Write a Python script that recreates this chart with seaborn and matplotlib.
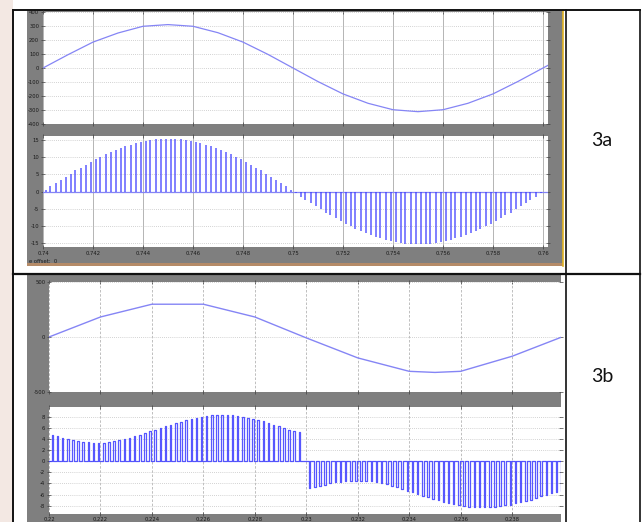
#!/usr/bin/env python3
"""
Recreation of a two-row figure table (3a / 3b) with Simulink-style scope
screenshots: a grid voltage sine on top and switching pulses below.
"""
import matplotlib
matplotlib.use('Agg')
import matplotlib.pyplot as plt
import seaborn as sns
from matplotlib.patches import Rectangle
from matplotlib.lines import Line2D

# ---------------------------------------------------------------- data 3a
sine_t_3a = [0.740, 0.741, 0.742, 0.743, 0.744, 0.745, 0.746, 0.747, 0.748, 0.749,
             0.750, 0.751, 0.752, 0.753, 0.754, 0.755, 0.756, 0.757, 0.758, 0.759,
             0.760, 0.7602]
sine_v_3a = [0, 95, 185, 250, 298, 310, 298, 252, 185, 97,
             0, -97, -185, -252, -298, -312, -298, -252, -185, -96,
             0, 19]

pulse_t_3a = [0.7401, 0.7403, 0.7405, 0.7407, 0.7409, 0.7411, 0.7413, 0.7415, 0.7417, 0.7419,
              0.7421, 0.7423, 0.7425, 0.7427, 0.7429, 0.7431, 0.7433, 0.7435, 0.7437, 0.7439,
              0.7441, 0.7443, 0.7445, 0.7447, 0.7449, 0.7451, 0.7453, 0.7455, 0.7457, 0.7459,
              0.7461, 0.7463, 0.7465, 0.7467, 0.7469, 0.7471, 0.7473, 0.7475, 0.7477, 0.7479,
              0.7481, 0.7483, 0.7485, 0.7487, 0.7489, 0.7491, 0.7493, 0.7495, 0.7497, 0.7499,
              0.7501, 0.7503, 0.7505, 0.7507, 0.7509, 0.7511, 0.7513, 0.7515, 0.7517, 0.7519,
              0.7521, 0.7523, 0.7525, 0.7527, 0.7529, 0.7531, 0.7533, 0.7535, 0.7537, 0.7539,
              0.7541, 0.7543, 0.7545, 0.7547, 0.7549, 0.7551, 0.7553, 0.7555, 0.7557, 0.7559,
              0.7561, 0.7563, 0.7565, 0.7567, 0.7569, 0.7571, 0.7573, 0.7575, 0.7577, 0.7579,
              0.7581, 0.7583, 0.7585, 0.7587, 0.7589, 0.7591, 0.7593, 0.7595, 0.7597, 0.7599]
pulse_v_3a = [0.5, 1.5, 2.4, 3.4, 4.3, 5.2, 6.2, 7.0, 7.9, 8.7,
              9.5, 10.2, 11.0, 11.6, 12.2, 12.8, 13.3, 13.8, 14.2, 14.6,
              14.9, 15.1, 15.3, 15.4, 15.5, 15.5, 15.4, 15.3, 15.1, 14.9,
              14.6, 14.2, 13.8, 13.3, 12.8, 12.2, 11.6, 11.0, 10.2, 9.5,
              8.7, 7.9, 7.0, 6.2, 5.2, 4.3, 3.4, 2.4, 1.5, 0.5,
              -0.5, -1.5, -2.4, -3.4, -4.3, -5.2, -6.2, -7.0, -7.9, -8.7,
              -9.5, -10.2, -11.0, -11.6, -12.2, -12.8, -13.3, -13.8, -14.2, -14.6,
              -14.9, -15.1, -15.3, -15.4, -15.5, -15.5, -15.4, -15.3, -15.1, -14.9,
              -14.6, -14.2, -13.8, -13.3, -12.8, -12.2, -11.6, -11.0, -10.2, -9.5,
              -8.7, -7.9, -7.0, -6.2, -5.2, -4.3, -3.4, -2.4, -1.5, -0.5]

xticks_3a = [0.74, 0.742, 0.744, 0.746, 0.748, 0.75, 0.752, 0.754, 0.756, 0.758, 0.76]
xlabels_3a = ['0.74', '0.742', '0.744', '0.746', '0.748', '0.75', '0.752', '0.754',
              '0.756', '0.758', '0.76']
yticks_3a_top = [400, 300, 200, 100, 0, -100, -200, -300, -400]
yticks_3a_bot = [15, 10, 5, 0, -5, -10, -15]

# ---------------------------------------------------------------- data 3b
sine_t_3b = [0.220, 0.222, 0.224, 0.226, 0.228, 0.230, 0.232, 0.234, 0.235, 0.236,
             0.238, 0.2399]
sine_v_3b = [0, 182, 298, 298, 182, -8, -190, -312, -322, -312, -175, -3]

pulse_t_3b = [0.2201, 0.2203, 0.2205, 0.2207, 0.2209, 0.2211, 0.2213, 0.2215, 0.2217, 0.2219,
              0.2221, 0.2223, 0.2225, 0.2227, 0.2229, 0.2231, 0.2233, 0.2235, 0.2237, 0.2239,
              0.2241, 0.2243, 0.2245, 0.2247, 0.2249, 0.2251, 0.2253, 0.2255, 0.2257, 0.2259,
              0.2261, 0.2263, 0.2265, 0.2267, 0.2269, 0.2271, 0.2273, 0.2275, 0.2277, 0.2279,
              0.2281, 0.2283, 0.2285, 0.2287, 0.2289, 0.2291, 0.2293, 0.2295, 0.2297,
              0.2301, 0.2303, 0.2305, 0.2307, 0.2309, 0.2311, 0.2313, 0.2315, 0.2317, 0.2319,
              0.2321, 0.2323, 0.2325, 0.2327, 0.2329, 0.2331, 0.2333, 0.2335, 0.2337, 0.2339,
              0.2341, 0.2343, 0.2345, 0.2347, 0.2349, 0.2351, 0.2353, 0.2355, 0.2357, 0.2359,
              0.2361, 0.2363, 0.2365, 0.2367, 0.2369, 0.2371, 0.2373, 0.2375, 0.2377, 0.2379,
              0.2381, 0.2383, 0.2385, 0.2387, 0.2389, 0.2391, 0.2393, 0.2395, 0.2397, 0.2399]
pulse_v_3b = [4.7, 4.5, 4.2, 4.0, 3.8, 3.6, 3.5, 3.4, 3.3, 3.3,
              3.3, 3.4, 3.6, 3.8, 4.0, 4.2, 4.5, 4.8, 5.1, 5.4,
              5.7, 6.0, 6.3, 6.6, 6.9, 7.1, 7.4, 7.6, 7.8, 8.0,
              8.2, 8.3, 8.35, 8.35, 8.35, 8.3, 8.2, 8.0, 7.8, 7.6,
              7.4, 7.2, 6.9, 6.6, 6.3, 6.0, 5.7, 5.4, 5.2,
              -4.9, -4.6, -4.4, -4.2, -4.0, -3.8, -3.7, -3.6, -3.5, -3.5,
              -3.5, -3.5, -3.6, -3.7, -3.9, -4.1, -4.4, -4.7, -5.0, -5.3,
              -5.6, -5.9, -6.2, -6.4, -6.8, -7.0, -7.3, -7.5, -7.7, -7.9,
              -8.1, -8.2, -8.3, -8.3, -8.3, -8.3, -8.2, -8.1, -7.9, -7.8,
              -7.6, -7.3, -7.1, -6.9, -6.6, -6.3, -6.0, -5.8, -5.5, -5.3]

xticks_3b = [0.22, 0.222, 0.224, 0.226, 0.228, 0.23, 0.232, 0.234, 0.236, 0.238]
xlabels_3b = ['0.22', '0.222', '0.224', '0.226', '0.228', '0.23', '0.232', '0.234',
              '0.236', '0.238']
yticks_3b_top = [500, 0, -500]
yticks_3b_bot = [8, 6, 4, 2, 0, -2, -4, -6, -8]

row_labels = ['3a', '3b']

# ---------------------------------------------------------------- layout
W, H = 643, 522
SCOPE_GRAY = '#7f7f7f'
SINE_COLOR = '#8585f5'
PULSE_COLOR = '#3a3aff'


def px_rect(x0, y0, x1, y1):
    """Pixel box (top-left origin) -> figure fraction rect."""
    return [x0 / W, 1 - y1 / H, (x1 - x0) / W, (y1 - y0) / H]


def style_scope(ax, xlim, ylim, xticks, yticks, xlabels=None, solid_vgrid=True, pad=1.2):
    ax.set_facecolor('white')
    ax.set_xlim(*xlim)
    ax.set_ylim(*ylim)
    ax.set_xticks(xticks)
    ax.set_xticklabels(xlabels if xlabels is not None else [])
    ax.set_yticks(yticks)
    ax.set_yticklabels([f'{v:g}' for v in yticks])
    ax.tick_params(direction='inout', length=3, width=0.5, color='#404040',
                   labelsize=3.8, labelcolor='#1a1a1a', pad=1.2,
                   top=True, right=True)
    ax.tick_params(axis='x', pad=pad)
    if solid_vgrid:
        ax.xaxis.grid(True, color='#b4b4b4', linewidth=0.7, linestyle='-')
    else:
        ax.xaxis.grid(True, color='#b4b4b4', linewidth=0.6, linestyle=(0, (3, 2)))
    ax.yaxis.grid(True, color='#c4c4c4', linewidth=0.6, linestyle=(0, (1, 1.5)))
    ax.set_axisbelow(True)
    ax.set_xlabel('')
    ax.set_ylabel('')
    for s in ax.spines.values():
        s.set_visible(False)


fig = plt.figure(figsize=(W / 100, H / 100), dpi=100)
fig.patch.set_facecolor('white')

# background: table lines and gray scope frames (pixel coordinates)
bg = fig.add_axes([0, 0, 1, 1], zorder=0)
bg.set_xlim(0, W)
bg.set_ylim(H, 0)
bg.axis('off')
bg.add_patch(Rectangle((0, 0), 13, H, color='#f3e8e3', lw=0))
bg.add_patch(Rectangle((27, 10), 536, 253, color=SCOPE_GRAY, lw=0))
bg.add_patch(Rectangle((27, 263), 536, 3, color='#b58b68', lw=0))
bg.add_patch(Rectangle((27, 275), 534, H - 275, color=SCOPE_GRAY, lw=0))
bg.add_line(Line2D([562.5, 562.5], [10, 266], color='#e2b422', lw=1.2))
for xs, ys, lw in [([13, 640], [9.5, 9.5], 1.4),
                   ([13, 13], [9.5, H], 1.4),
                   ([565.5, 565.5], [9.5, H], 1.2),
                   ([639.5, 639.5], [9.5, H], 1.2),
                   ([13, 640], [273.5, 273.5], 1.6)]:
    bg.add_line(Line2D(xs, ys, color='#111111', lw=lw))
bg.text(29, 261.5, 'e offset:  0', fontsize=3.8, color='#1a1a1a', va='center')
bg.text(602, 140, row_labels[0], fontsize=14, ha='center', va='center',
        family=['Lato', 'DejaVu Sans'], color='#111111')
bg.text(602, 377, row_labels[1], fontsize=14, ha='center', va='center',
        family=['Lato', 'DejaVu Sans'], color='#111111')

# ---------------------------------------------------------------- 3a
ax1 = fig.add_axes(px_rect(43, 12, 548, 124), zorder=2)
sns.lineplot(x=sine_t_3a, y=sine_v_3a, ax=ax1, color=SINE_COLOR, linewidth=0.9,
             estimator=None, sort=False, legend=False)
style_scope(ax1, (0.74, 0.7602), (-400, 400), xticks_3a, yticks_3a_top)

ax2 = fig.add_axes(px_rect(43, 136, 548, 247), zorder=2)
ax2.axhline(0, color=SINE_COLOR, linewidth=0.9, zorder=2)
ax2.vlines(pulse_t_3a, 0, pulse_v_3a, color=PULSE_COLOR, linewidth=1.3, alpha=0.7, zorder=3)
style_scope(ax2, (0.74, 0.7602), (-16.3, 16.3), xticks_3a, yticks_3a_bot, xlabels_3a)

# ---------------------------------------------------------------- 3b
ax3 = fig.add_axes(px_rect(49, 282, 561, 392), zorder=2)
sns.lineplot(x=sine_t_3b, y=sine_v_3b, ax=ax3, color=SINE_COLOR, linewidth=1.0,
             estimator=None, sort=False, legend=False)
style_scope(ax3, (0.22, 0.2399), (-500, 500), xticks_3b, yticks_3b_top, solid_vgrid=False)

ax4 = fig.add_axes(px_rect(49, 407, 561, 514), zorder=2)
# rectangular pulses: up at t, across the pulse width, back down to zero
pw = 0.00006
path_t, path_v = [0.22], [0]
for t, v in zip(pulse_t_3b, pulse_v_3b):
    path_t += [t, t, t + pw, t + pw]
    path_v += [0, v, v, 0]
path_t.append(0.2399)
path_v.append(0)
ax4.plot(path_t, path_v, color=PULSE_COLOR, linewidth=0.9, alpha=0.85, zorder=3)
style_scope(ax4, (0.22, 0.2399), (-9.5, 9.75), xticks_3b, yticks_3b_bot, xlabels_3b,
            solid_vgrid=False, pad=0.6)

fig.savefig('out.png', dpi=100)
plt.close(fig)
